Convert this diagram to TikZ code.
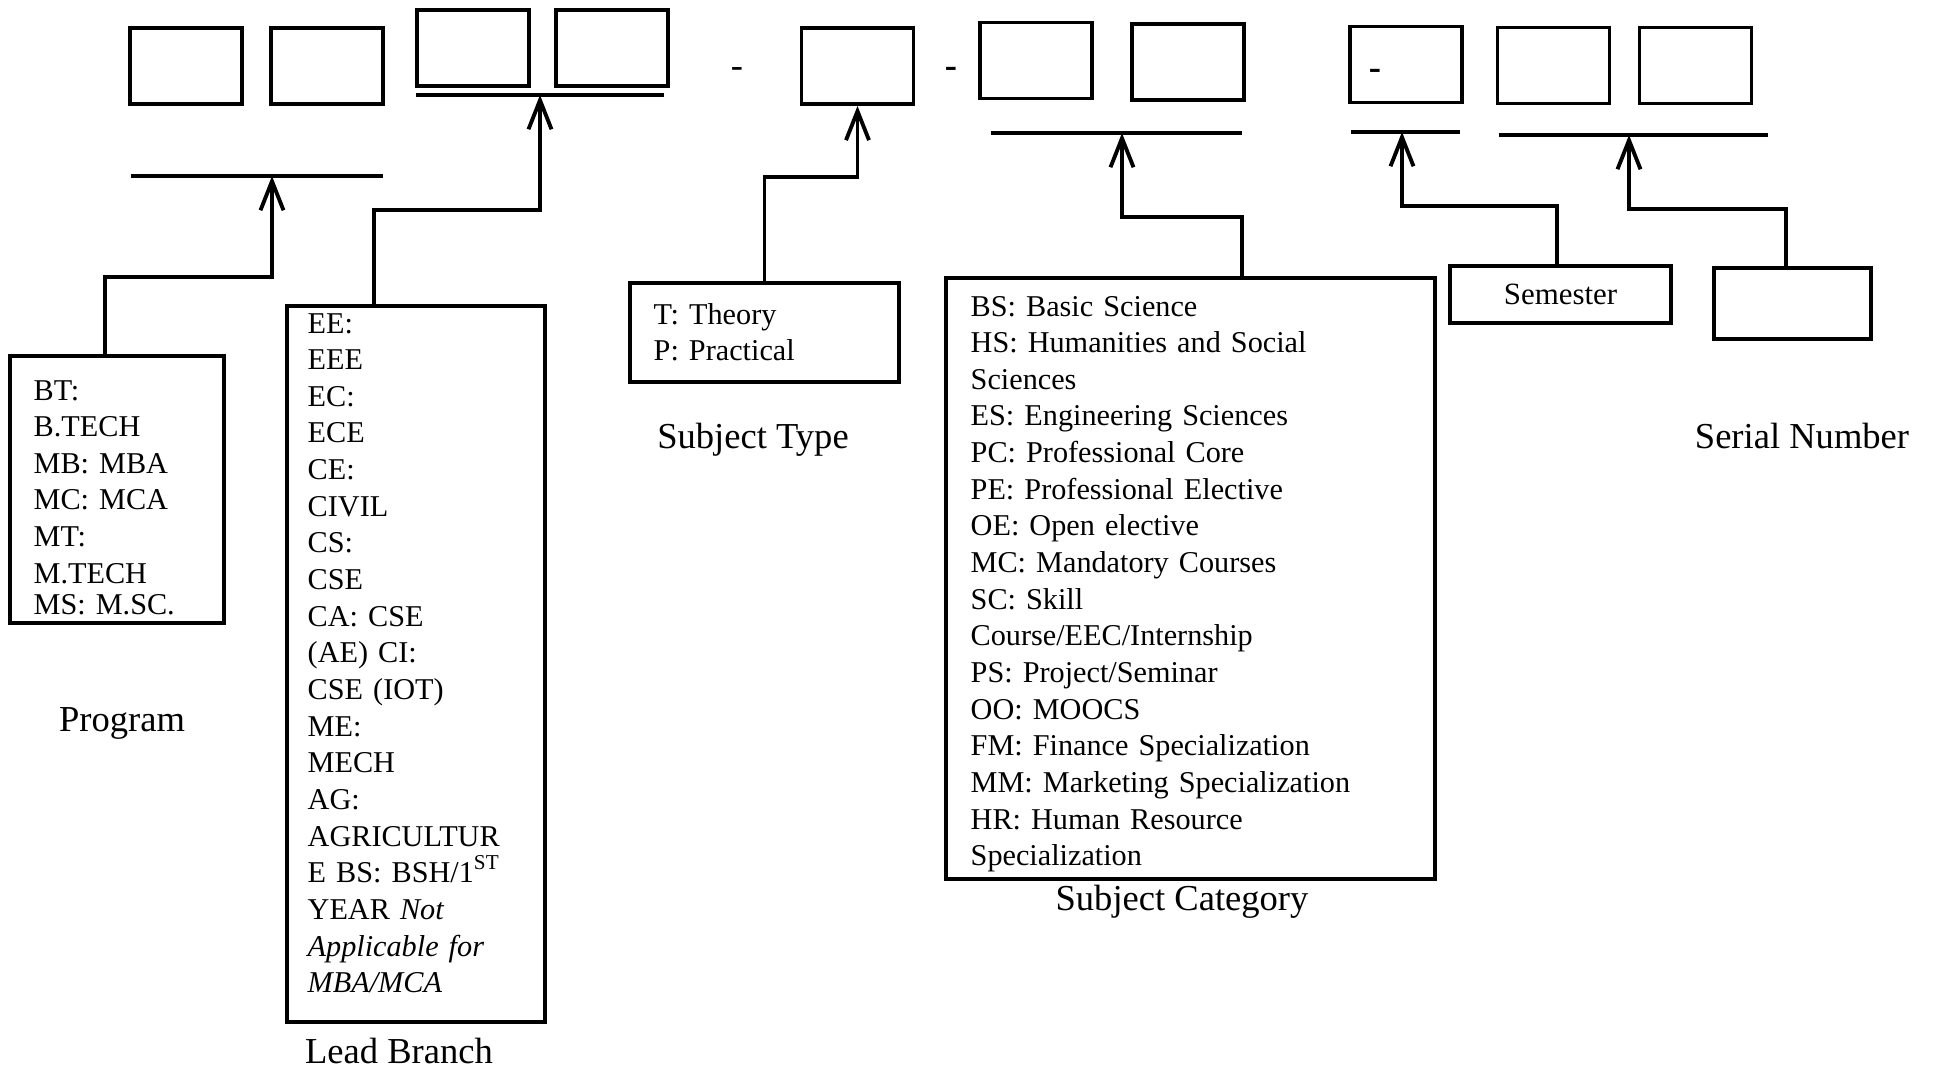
\documentclass[tikz,border=0pt]{standalone}
\usepackage{fontspec}
\setmainfont{Liberation Serif}
\usetikzlibrary{arrows.meta}

\tikzset{
    digit/.style={draw, line width=1.1pt, minimum width=1.12cm, minimum height=0.76cm, inner sep=0pt},
    listbox/.style={draw, line width=1.1pt, inner sep=0pt},
    listtext/.style={anchor=base west, align=left, inner sep=0pt, font=\fontsize{8.6}{10.43}\selectfont},
    caption/.style={anchor=base, inner sep=0pt, font=\fontsize{10.4}{12.5}\selectfont},
    dashmark/.style={anchor=base, inner sep=0pt, font=\fontsize{10.4}{12.5}\selectfont},
    bar/.style={line width=1.1pt},
    link/.style={line width=1.1pt, -{Straight Barb[length=2.9mm,width=2.3mm]}}
}

\begin{document}
\begin{tikzpicture}
    
    \useasboundingbox (0,0) rectangle (19.34,-10.73);
    
    % code digits
    \node[digit] (prog1) at (1.86,-0.66) {};
    \node[digit] (prog2) at (3.27,-0.66) {};
    \node[digit] (branch1) at (4.73,-0.48) {};
    \node[digit] (branch2) at (6.12,-0.48) {};
    \node[dashmark] (dash1) at (7.37,-0.77) {-};
    \node[digit] (type1) at (8.575,-0.66) {};
    \node[dashmark] (dash2) at (9.51,-0.77) {\textbf{-}};
    \node[digit] (cat1) at (10.36,-0.605) {};
    \node[digit] (cat2) at (11.88,-0.62) {};
    \node[digit] (sem1) at (14.06,-0.645) {};
    \node[dashmark] (dash3) at (13.75,-0.79) {\textbf{-}};
    \node[digit] (ser1) at (15.535,-0.655) {};
    \node[digit] (ser2) at (16.955,-0.655) {};
    
    % bars under the digits
    \draw[bar] (1.31,-1.76) -- (3.83,-1.76);
    \draw[bar] (4.16,-0.95) -- (6.64,-0.95);
    \draw[bar] (9.91,-1.33) -- (12.42,-1.33);
    \draw[bar] (13.51,-1.32) -- (14.60,-1.32);
    \draw[bar] (14.99,-1.35) -- (17.68,-1.35);
    
    \coordinate (progtip) at (2.72,-1.76);
    \coordinate (branchtip) at (5.40,-0.95);
    \coordinate (cattip) at (11.22,-1.33);
    \coordinate (semtip) at (14.02,-1.32);
    \coordinate (sertip) at (16.29,-1.35);
    
    % boxes
    \node[listbox, minimum width=2.14cm, minimum height=2.67cm] (program) at (1.17,-4.895) {};
    \node[listbox, minimum width=2.58cm, minimum height=7.16cm] (branch) at (4.16,-6.64) {};
    \node[listbox, minimum width=2.69cm, minimum height=0.99cm] (type) at (7.645,-3.325) {};
    \node[listbox, minimum width=4.89cm, minimum height=6.01cm] (category) at (11.905,-5.785) {};
    \node[listbox, minimum width=2.21cm, minimum height=0.57cm, font=\fontsize{8.8}{10.5}\selectfont] (semester) at (15.605,-2.945) {Semester};
    \node[listbox, minimum width=1.57cm, minimum height=0.71cm] (serial) at (17.925,-3.035) {};
    
    % box texts
    \node[listtext, text width=2cm] (programtext) at (0.33,-4.00) {BT:\\ B.TECH\\ MB: MBA\\ MC: MCA\\ MT:\\ M.TECH\\[-1.6pt] MS: M.SC.};
    \node[listtext, text width=2.3cm] (branchtext) at (3.07,-3.33) {EE:\\ EEE\\ EC:\\ ECE\\ CE:\\ CIVIL\\ CS:\\ CSE\\ CA: CSE\\ (AE) CI:\\ CSE (IOT)\\ ME:\\ MECH\\ AG:\\ AGRICULTUR\\ E BS: BSH/1\textsuperscript{ST}\\ YEAR \textit{Not}\\ \textit{Applicable for}\\ \textit{MBA/MCA}};
    \node[listtext, text width=2.4cm] (typetext) at (6.53,-3.24) {T: Theory\\ P: Practical};
    \node[listtext, text width=4.6cm] (categorytext) at (9.70,-3.16) {BS: Basic Science\\ HS: Humanities and Social\\ Sciences\\ ES: Engineering Sciences\\ PC: Professional Core\\ PE: Professional Elective\\ OE: Open elective\\ MC: Mandatory Courses\\ SC: Skill\\ Course/EEC/Internship\\ PS: Project/Seminar\\ OO: MOOCS\\ FM: Finance Specialization\\ MM: Marketing Specialization\\ HR: Human Resource\\ Specialization};
    
    % connectors
    \draw[link] ([xshift=-1.2mm]program.north) -- ++(0,0.77) -| (progtip);
    \draw[link] ([xshift=-4.2mm]branch.north) -- ++(0,0.94) -| (branchtip);
    \draw[link] (type.north) -- ++(0,1.04) -| (type1.south);
    \draw[link] ([xshift=5.15mm]category.north) -- ++(0,0.59) -| (cattip);
    \draw[link] ([xshift=-0.35mm]semester.north) -- ++(0,0.58) -| (semtip);
    \draw[link] ([xshift=-0.65mm]serial.north) -- ++(0,0.57) -| (sertip);
    
    % captions
    \node[caption] (programlabel) at (1.22,-7.31) {Program};
    \node[caption] (branchlabel) at (3.99,-10.63) {Lead Branch};
    \node[caption] (typelabel) at (7.53,-4.48) {Subject Type};
    \node[caption] (categorylabel) at (11.82,-9.10) {Subject Category};
    \node[caption] (seriallabel) at (18.02,-4.48) {Serial Number};
    
\end{tikzpicture}
\end{document}
